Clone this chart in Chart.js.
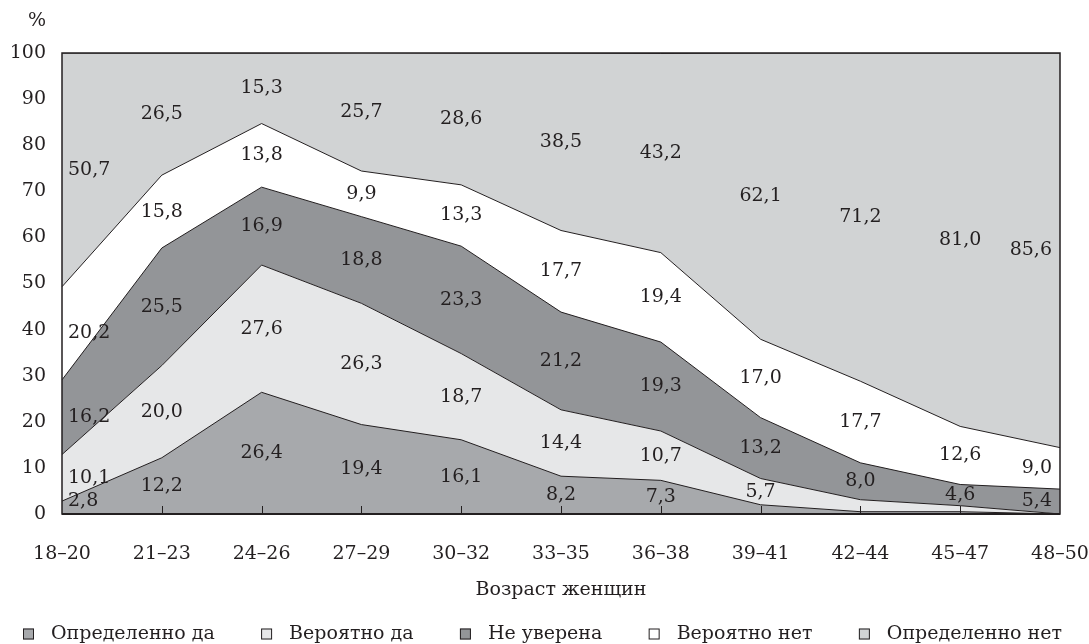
<!DOCTYPE html>
<html>
<head>
<meta charset="utf-8">
<script src="https://cdn.jsdelivr.net/npm/chart.js@4.4.0/dist/chart.umd.min.js"></script>
<style>
  html, body { margin: 0; padding: 0; background: #fff; }
  #wrap { width: 1089px; height: 644px; }
</style>
</head>
<body>
<div id="wrap"><canvas id="chart" width="1089" height="644"></canvas></div>
<script>
// age groups on the x axis
const ages = ['18–20', '21–23', '24–26', '27–29', '30–32', '33–35', '36–38', '39–41', '42–44', '45–47', '48–50'];

// shares, %, bottom to top
const defYes  = [2.8, 12.2, 26.4, 19.4, 16.1, 8.2, 7.3, 2.0, 0.5, 0.5, 0];
const probYes = [10.1, 20.0, 27.6, 26.3, 18.7, 14.4, 10.7, 5.7, 2.6, 1.3, 0];
const unsure  = [16.2, 25.5, 16.9, 18.8, 23.3, 21.2, 19.3, 13.2, 8.0, 4.6, 5.4];
const probNo  = [20.2, 15.8, 13.8, 9.9, 13.3, 17.7, 19.4, 17.0, 17.7, 12.6, 9.0];
const defNo   = [50.7, 26.5, 15.3, 25.7, 28.6, 38.5, 43.2, 62.1, 71.2, 81.0, 85.6];

const seriesNames = ['Определенно да', 'Вероятно да', 'Не уверена', 'Вероятно нет', 'Определенно нет'];
const seriesColors = ['#a7a9ac', '#e6e7e8', '#939598', '#ffffff', '#d1d3d4'];

const INK = '#231f20';
const FONT_FAMILY = '"DejaVu Serif", serif';
const FONT_SIZE = 19;

function fmt(v) {
  return v.toFixed(1).replace('.', ',');
}

// numbers inside the bands (tiny shares are left unlabelled, as in the source)
const bandLabels = {
  id: 'bandLabels',
  afterDatasetsDraw(chart) {
    const { ctx, chartArea, scales: { x, y } } = chart;
    const sets = chart.data.datasets;
    const last = ages.length - 1;
    ctx.save();
    ctx.font = FONT_SIZE + 'px ' + FONT_FAMILY;
    ctx.fillStyle = INK;
    ctx.textBaseline = 'middle';
    sets.forEach((ds, di) => {
      ds.data.forEach((v, i) => {
        if (v < 2.7) return;
        let base = 0;
        for (let k = 0; k < di; k++) base += sets[k].data[i];
        let cy = y.getPixelForValue(Math.min(base + v / 2, 100));
        cy = Math.min(cy, chartArea.bottom - 13);
        let cx = x.getPixelForValue(i);
        if (i === 0) { ctx.textAlign = 'left'; cx += 6; }
        else if (i === last) { ctx.textAlign = 'right'; cx -= 8; }
        else ctx.textAlign = 'center';
        ctx.fillText(fmt(v), cx, cy);
      });
    });
    ctx.restore();
  }
};

// frame, inner ticks, % sign and legend
const frame = {
  id: 'frame',
  afterDraw(chart) {
    const { ctx, chartArea: a, scales: { x } } = chart;
    ctx.save();
    ctx.strokeStyle = INK;
    ctx.lineWidth = 1.5;
    ctx.strokeRect(a.left, a.top, a.right - a.left, a.bottom - a.top);
    ctx.lineWidth = 2;
    ctx.beginPath();
    ctx.moveTo(a.left, a.bottom);
    ctx.lineTo(a.right, a.bottom);
    ctx.stroke();
    ctx.lineWidth = 1;
    ctx.beginPath();
    for (let i = 1; i < ages.length - 1; i++) {
      const px = Math.round(x.getPixelForValue(i)) + 0.5;
      ctx.moveTo(px, a.bottom);
      ctx.lineTo(px, a.bottom - 8);
    }
    ctx.stroke();

    ctx.fillStyle = INK;
    ctx.font = FONT_SIZE + 'px ' + FONT_FAMILY;
    ctx.textBaseline = 'middle';
    ctx.textAlign = 'center';
    ctx.fillText('%', 37, 21);

    // legend, spread across the width
    const box = 11, gapText = 17;
    const left = 23, right = 1062;
    const widths = seriesNames.map(n => box + gapText + ctx.measureText(n).width);
    const total = widths.reduce((s, w) => s + w, 0);
    const gap = (right - left - total) / (seriesNames.length - 1);
    let lx = left;
    const ly = 634;
    ctx.textAlign = 'left';
    seriesNames.forEach((n, i) => {
      ctx.fillStyle = seriesColors[i];
      ctx.fillRect(lx, ly - box / 2, box, box);
      ctx.strokeStyle = INK;
      ctx.lineWidth = 1;
      ctx.strokeRect(lx + 0.5, ly - box / 2 + 0.5, box - 1, box - 1);
      ctx.fillStyle = INK;
      ctx.fillText(n, lx + box + gapText, ly);
      lx += widths[i] + gap;
    });
    ctx.restore();
  }
};

const seriesData = [defYes, probYes, unsure, probNo, defNo];

new Chart(document.getElementById('chart'), {
  type: 'line',
  data: {
    labels: ages,
    datasets: seriesData.map((d, i) => ({
      label: seriesNames[i],
      data: d,
      backgroundColor: seriesColors[i],
      borderColor: INK,
      borderWidth: 1,
      pointRadius: 0,
      tension: 0,
      fill: i === 0 ? 'origin' : '-1'
    }))
  },
  options: {
    responsive: false,
    animation: false,
    devicePixelRatio: 1,
    layout: { padding: { left: 0, top: 53, right: 29, bottom: 40 } },
    plugins: {
      legend: { display: false },
      tooltip: { enabled: false }
    },
    scales: {
      x: {
        offset: false,
        grid: { display: false, drawTicks: false },
        border: { display: false },
        ticks: {
          color: INK,
          font: { family: FONT_FAMILY, size: FONT_SIZE },
          padding: 29,
          maxRotation: 0,
          autoSkip: false
        },
        title: {
          display: true,
          text: 'Возраст женщин',
          color: INK,
          font: { family: FONT_FAMILY, size: FONT_SIZE },
          padding: { top: 0, bottom: 3 }
        },
        afterFit(scale) {
          scale.height = 90;
          scale.paddingLeft = 0;
          scale.paddingRight = 0;
        }
      },
      y: {
        stacked: true,
        min: 0,
        max: 100,
        grid: { display: false, drawTicks: false },
        border: { display: false },
        ticks: {
          stepSize: 10,
          color: INK,
          padding: 16,
          font: { family: FONT_FAMILY, size: FONT_SIZE }
        },
        afterFit(scale) { scale.width = 62; }
      }
    }
  },
  plugins: [bandLabels, frame]
});
</script>
</body>
</html>
